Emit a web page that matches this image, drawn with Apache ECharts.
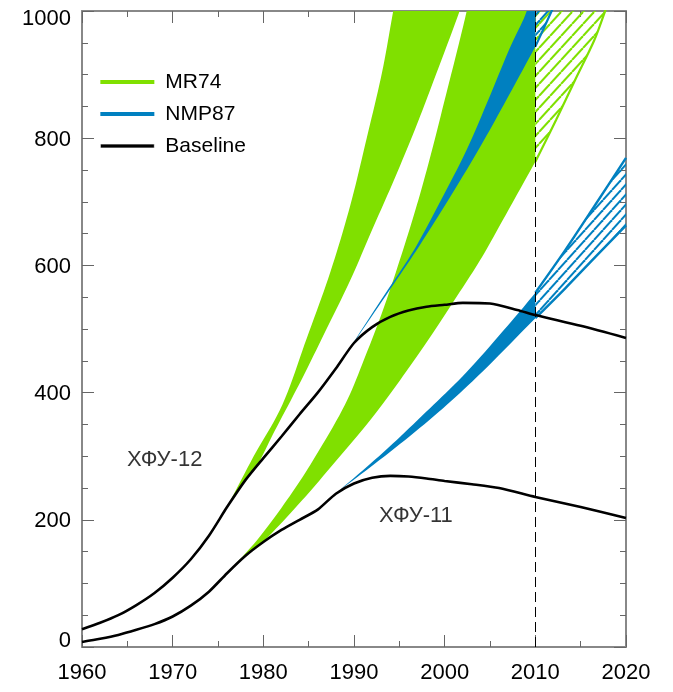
<!DOCTYPE html>
<html>
<head>
<meta charset="utf-8">
<script src="https://cdn.jsdelivr.net/npm/echarts@6/dist/echarts.min.js"></script>
<style>
  html, body { margin: 0; padding: 0; background: #fff; }
  #chart { width: 673px; height: 692px; }
</style>
</head>
<body>
<div id="chart"></div>
<script>
// Axis ticks
const xTicks = { min: 1960, max: 2020, step: 10 };
const yTicks = { min: 0, max: 1000, step: 200 };
const projectionYear = 2010;

// Baseline mixing ratios, ppt
const baseline12 = [[1960,28],[1962,38],[1964,50],[1966,66],[1968,85],[1970,109],[1972,138],[1974,175],[1976,220],[1978,262],[1980,297],[1982,331],[1984,366],[1986,400],[1988,438],[1990,478],[1992,503],[1994,519],[1996,529],[1998,535],[2000,538],[2002,541],[2005,540],[2008,530],[2010,522],[2015,505],[2020,486]];
const baseline11 = [[1960,8],[1962,13],[1964,19],[1966,27],[1968,36],[1970,48],[1972,65],[1974,87],[1976,116],[1978,143],[1980,165],[1982,184],[1984,200],[1986,216],[1988,241],[1990,257],[1992,266],[1994,269],[1996,268],[1998,265],[2000,261],[2003,256],[2006,250],[2010,236],[2015,220],[2020,203]];

// MR74 range, CFC-12
const mr74_12_hi = [[1976,220],[1978.9,299],[1982.1,381],[1984.8,486],[1987.4,590],[1989.6,695],[1991.4,800],[1993.1,904],[1994.3,998],[1995,1050]];
const mr74_12_lo = [[1976,220],[1978,262],[1979.3,285],[1981.3,341],[1984.2,420],[1986.9,498],[1989.6,577],[1992.0,656],[1994.4,734],[1996.7,813],[1998.8,891],[2001.6,998],[2002.5,1040]];

// MR74 range, CFC-11
const mr74_11_hi = [[1975.6,110],[1979.3,168],[1982.6,231],[1985.5,294],[1989.0,381],[1991.3,459],[1993.4,538],[1995.4,624],[1997.1,703],[1998.6,781],[2000.0,860],[2001.4,939],[2002.4,998],[2003,1040]];
const mr74_11_lo = [[1975.6,110],[1978,143],[1980.3,170],[1984.3,231],[1988.1,294],[1991.8,357],[1995.1,420],[1998.2,483],[2001.1,546],[2003.9,608],[2006.4,671],[2010,763]];
const mr74_11_proj = [[2010,763],[2012.3,829],[2014.4,892],[2016.5,954],[2017.7,1000],[2018.2,1020]];

// NMP87 range, CFC-12
const nmp87_12_hi = [[1988.8,454],[1993.0,546],[1996.6,624],[1999.6,703],[2002.4,781],[2004.8,860],[2007.1,939],[2009.0,998],[2009.6,1040]];
const nmp87_12_lo = [[1988.8,454],[1993.2,546],[1996.9,624],[2000.4,703],[2003.7,781],[2006.8,860],[2010,944]];
const nmp87_12_proj = [[2010,944],[2011.8,1000],[2012.5,1022]];

// NMP87 range, CFC-11
const nmp87_11_hi = [[1988.2,244],[1993.3,307],[1997.9,369],[2002.4,432],[2007.3,511],[2010,557]];
const nmp87_11_lo = [[1988.2,244],[1994.0,307],[1999.3,369],[2004.1,432],[2010,517]];
const nmp87_11_projHi = [[2010,557],[2013.3,624],[2016.6,695],[2020,769]];
const nmp87_11_projLo = [[2010,517],[2013.3,564],[2016.6,613],[2020,663]];

// Curve labels
const curveNames = ['ХФУ-12', 'ХФУ-11'];
const curveLabelAt = [[1964.9, 294], [1992.7, 206]];

const GREEN = '#80e000';
const BLUE = '#0080c0';
const FONT = 'Liberation Sans, Arial, sans-serif';
const TOP = 1040;

function hatch(color, w, h, lw) {
  const c = document.createElement('canvas');
  c.width = w; c.height = h;
  const g = c.getContext('2d');
  g.strokeStyle = color;
  g.lineWidth = lw;
  for (const dx of [-w, 0, w]) {
    g.beginPath();
    g.moveTo(dx, h);
    g.lineTo(dx + w, 0);
    g.stroke();
  }
  return { image: c, repeat: 'repeat' };
}

// Catmull-Rom through pixel points
function spline(px) {
  if (px.length < 3) return px.slice();
  const out = [];
  const n = px.length;
  for (let i = 0; i < n - 1; i++) {
    const p0 = px[Math.max(i - 1, 0)], p1 = px[i], p2 = px[i + 1], p3 = px[Math.min(i + 2, n - 1)];
    for (let k = 0; k < 10; k++) {
      const t = k / 10, t2 = t * t, t3 = t2 * t;
      const f = j => 0.5 * (2 * p1[j] + (-p0[j] + p2[j]) * t + (2 * p0[j] - 5 * p1[j] + 4 * p2[j] - p3[j]) * t2 + (-p0[j] + 3 * p1[j] - 3 * p2[j] + p3[j]) * t3);
      out.push([f(0), f(1)]);
    }
  }
  out.push(px[n - 1]);
  return out;
}

// Region bounded by an upper and a lower edge, optionally closed along x = closeAt
function areaSeries(name, upper, lower, closeAt, fill) {
  return {
    type: 'custom',
    name: name,
    clip: true,
    silent: true,
    data: [[upper[0][0], upper[0][1]]],
    renderItem: function (params, api) {
      const up = spline(upper.map(p => api.coord(p)));
      const lo = spline(lower.map(p => api.coord(p))).reverse();
      let pts = up;
      if (closeAt !== null) pts = pts.concat([api.coord([closeAt, TOP])]);
      pts = pts.concat(lo);
      return {
        type: 'polygon',
        shape: { points: pts },
        style: { fill: fill, stroke: null }
      };
    }
  };
}

function edgeSeries(name, data, color, width) {
  return {
    type: 'line', name: name, data: data, showSymbol: false, silent: true,
    smooth: 0.3, clip: true, lineStyle: { color: color, width: width }, itemStyle: { color: color }
  };
}

function baselineSeries(data, extra) {
  return Object.assign({
    type: 'line', name: 'Baseline', data: data, showSymbol: false, silent: true,
    smooth: 0.25,
    lineStyle: { color: '#000', width: 2.6 }, itemStyle: { color: '#000' }
  }, extra || {});
}

const greenHatch = hatch(GREEN, 11, 12, 2.1);
const blueHatch = hatch(BLUE, 9, 10, 2);

const series = [
  areaSeries('MR74', mr74_12_hi, mr74_12_lo, null, GREEN),
  areaSeries('MR74', mr74_11_hi, mr74_11_lo, projectionYear, GREEN),
  areaSeries('MR74', [[projectionYear, TOP]], mr74_11_proj, null, greenHatch),
  edgeSeries('MR74', mr74_11_proj, GREEN, 2.2),
  areaSeries('NMP87', nmp87_12_hi, nmp87_12_lo, projectionYear, BLUE),
  areaSeries('NMP87', [[projectionYear, TOP]], nmp87_12_proj, null, blueHatch),
  edgeSeries('NMP87', nmp87_12_proj, BLUE, 2.2),
  areaSeries('NMP87', nmp87_11_hi, nmp87_11_lo, null, BLUE),
  areaSeries('NMP87', nmp87_11_projHi, nmp87_11_projLo, null, blueHatch),
  edgeSeries('NMP87', nmp87_11_projHi, BLUE, 2.4),
  edgeSeries('NMP87', nmp87_11_projLo, BLUE, 2.4),
  baselineSeries(baseline12, {
    markLine: {
      silent: true, symbol: 'none', label: { show: false },
      lineStyle: { color: '#000', width: 1, type: [10, 5] },
      data: [{ xAxis: projectionYear }]
    }
  }),
  baselineSeries(baseline11),
  {
    type: 'scatter', name: 'labels', silent: true, symbolSize: 1,
    itemStyle: { color: 'rgba(0,0,0,0)' },
    data: curveNames.map((n, i) => ({ name: n, value: curveLabelAt[i] })),
    label: {
      show: true, position: 'right', distance: 0, formatter: '{b}',
      color: '#000', fontSize: 22, fontFamily: FONT
    }
  }
];

const tickColor = '#666';
function xAxisDef(pos) {
  return {
    type: 'value', position: pos, min: xTicks.min, max: xTicks.max, interval: xTicks.step,
    axisLine: { show: true, onZero: false, lineStyle: { color: '#888', width: 2 } },
    axisTick: { show: true, inside: true, length: 12, lineStyle: { color: tickColor, width: 1 } },
    minorTick: { show: true, splitNumber: 2, length: 6, lineStyle: { color: tickColor, width: 1 } },
    axisLabel: {
      show: pos === 'bottom', color: '#000', fontSize: 22, fontFamily: FONT, margin: 15,
      formatter: v => String(v)
    },
    splitLine: { show: false }, minorSplitLine: { show: false }
  };
}
function yAxisDef(pos) {
  return {
    type: 'value', position: pos, min: yTicks.min, max: yTicks.max, interval: yTicks.step,
    axisLine: { show: true, onZero: false, lineStyle: { color: '#888', width: 2 } },
    axisTick: { show: true, inside: true, length: 12, lineStyle: { color: tickColor, width: 1 } },
    minorTick: { show: true, splitNumber: 4, length: 6, lineStyle: { color: tickColor, width: 1 } },
    axisLabel: {
      show: pos === 'left', color: '#000', fontSize: 22, fontFamily: FONT, margin: 11,
      formatter: v => v === yTicks.min ? '{lo|' + v + '}' : (v === yTicks.max ? '{hi|' + v + '}' : '{n|' + v + '}'),
      rich: {
        n: { fontSize: 22, fontFamily: FONT, color: '#000', padding: [3, 0, 0, 0] },
        lo: { fontSize: 22, fontFamily: FONT, color: '#000', padding: [0, 0, 13, 0] },
        hi: { fontSize: 22, fontFamily: FONT, color: '#000', padding: [16, 0, 0, 0] }
      }
    },
    splitLine: { show: false }, minorSplitLine: { show: false }
  };
}

const chart = echarts.init(document.getElementById('chart'), null, { renderer: 'canvas' });
chart.setOption({
  animation: false,
  backgroundColor: '#fff',
  grid: { left: 82, right: 47, top: 11, bottom: 45 },
  xAxis: [xAxisDef('bottom'), xAxisDef('top')],
  yAxis: [yAxisDef('left'), yAxisDef('right')],
  legend: {
    show: true, orient: 'vertical', left: 95, top: 66, itemGap: 10,
    itemWidth: 54, itemHeight: 4, selectedMode: false,
    textStyle: { fontSize: 21, fontFamily: FONT, color: '#000', lineHeight: 22, padding: [0, 0, 0, 6] },
    data: [
      { name: 'MR74', icon: 'rect', itemStyle: { color: GREEN } },
      { name: 'NMP87', icon: 'rect', itemStyle: { color: BLUE } },
      { name: 'Baseline', icon: 'rect', itemStyle: { color: '#000', borderColor: '#fff', borderWidth: 0.7 } }
    ]
  },
  series: series
});
</script>
</body>
</html>
